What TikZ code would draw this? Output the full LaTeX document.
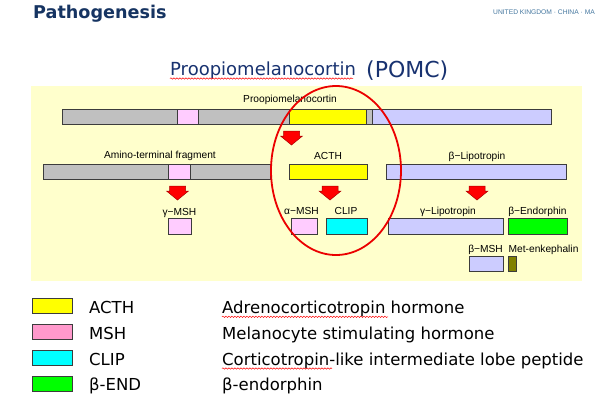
\documentclass[tikz,border=0pt]{standalone}
\usepackage{fontspec}
\setmainfont{DejaVu Sans}
\newfontfamily\labfont{Liberation Sans}
\usetikzlibrary{decorations.pathmorphing}
\definecolor{navy}{RGB}{22,52,98}
\definecolor{titleblue}{RGB}{24,50,112}
\definecolor{corpblue}{RGB}{70,120,160}
\definecolor{panel}{RGB}{255,255,204}
\definecolor{edge}{RGB}{60,60,60}
\definecolor{segGray}{RGB}{192,192,192}
\definecolor{segPink}{RGB}{255,204,255}
\definecolor{segLav}{RGB}{204,204,255}
\definecolor{segYel}{RGB}{255,255,0}
\definecolor{segCyan}{RGB}{0,255,255}
\definecolor{segGreen}{RGB}{0,255,0}
\definecolor{segOlive}{RGB}{128,128,0}
\definecolor{legPink}{RGB}{255,153,204}
\definecolor{arrRed}{RGB}{255,0,0}
\definecolor{arrEdge}{RGB}{170,0,0}
\definecolor{ringRed}{RGB}{235,0,0}
\newcommand\segbox[6]{%
  \node[seg,fill=#6,minimum width={#4pt-#2pt},minimum height={#5pt-#3pt}]
    (#1) at ({(#2+#4)/2},{(#3+#5)/2}) {};}
\newcommand\legbox[3]{%
  \node[legbox,fill=#3] (#1) at (52.5,#2) {};}
\newcommand\blockarrow[3]{%
  \draw[redarr] (#2-8,#3) -- (#2+8,#3) -- (#2+8,#3+5) -- (#2+11,#3+5)
    -- (#2,#3+14) -- (#2-11,#3+5) -- (#2-8,#3+5) -- cycle;
  \coordinate (#1) at (#2,#3+7);}
\begin{document}
\begin{tikzpicture}[x=1pt,y=-1pt,
  seg/.style={draw=edge,line width=0.9pt,inner sep=0pt,outer sep=0pt},
  legbox/.style={draw=edge,line width=1.8pt,inner sep=0pt,outer sep=0pt,
    minimum width=40pt,minimum height=15pt},
  redarr/.style={fill=arrRed,draw=arrEdge,line width=0.5pt,line join=miter},
  lab/.style={inner sep=0pt,anchor=base,font=\labfont\fontsize{10.2}{12}\selectfont},
  legtxt/.style={inner sep=0pt,anchor=base west,font=\fontsize{16.5}{19}\selectfont},
  wavy/.style={draw=red,line width=0.5pt,decorate,
    decoration={snake,segment length=3pt,amplitude=0.7pt}}]
\useasboundingbox (0,0) rectangle (595,408);
\fill[white] (0,0) rectangle (595,408);

% header
\node[inner sep=0pt,anchor=base west,text=navy,
  font=\bfseries\fontsize{17.6}{20}\selectfont] (head) at (33,18.3) {Pathogenesis};
\node[inner sep=0pt,anchor=base east,text=corpblue,
  font=\labfont\fontsize{6.7}{8}\selectfont] (corp) at (595,14) {UNITED KINGDOM · CHINA · MA};

% title
\node[inner sep=0pt,anchor=base west,text=titleblue,
  font=\fontsize{18}{21}\selectfont] (title) at (170,75) {Proopiomelanocortin};
\node[inner sep=0pt,anchor=base west,text=titleblue,
  font=\fontsize{22}{25}\selectfont] (pomc) at (366,77.5) {(POMC)};
\draw[wavy] (170,78.5) -- (353,78.5);

% panel
\fill[panel] (31,86) rectangle (582,281);

% row 1
\segbox{r1a}{62}{109}{177}{124.5}{segGray}
\segbox{r1b}{177}{109}{198}{124.5}{segPink}
\segbox{r1c}{198}{109}{289}{124.5}{segGray}
\segbox{r1d}{289}{109}{366}{124.5}{segYel}
\segbox{r1e}{366}{109}{372}{124.5}{segGray}
\segbox{r1f}{372}{109}{551}{124.5}{segLav}
\node[lab] (lpomc) at (290,102.5) {Proopiomelanocortin};

% row 2
\segbox{r2a}{43}{164}{168}{179}{segGray}
\segbox{r2b}{168}{164}{190}{179}{segPink}
\segbox{r2c}{190}{164}{270}{179}{segGray}
\segbox{acth}{289}{164}{367}{179}{segYel}
\segbox{blip}{386}{164}{566}{179}{segLav}
\node[lab] (lamino) at (160,158.8) {Amino-terminal fragment};
\node[lab] (lacth) at (328,159.5) {ACTH};
\node[lab] (lblip) at (477,159) {β−Lipotropin};

% arrows
\blockarrow{a1}{291.5}{131}
\blockarrow{a2}{177.5}{186}
\blockarrow{a3}{330}{186}
\blockarrow{a4}{477}{186}

% row 3
\segbox{gmsh}{168}{218}{191}{234}{segPink}
\segbox{amsh}{291}{218}{317}{234}{segPink}
\segbox{clip}{326}{218}{367}{234}{segCyan}
\segbox{glip}{388}{218}{503}{234}{segLav}
\segbox{bend}{508}{218}{567}{234}{segGreen}
\node[lab] (lgmsh) at (179.5,215) {γ−MSH};
\node[lab] (lamsh) at (301.5,214.5) {α−MSH};
\node[lab] (lclip) at (346,214.5) {CLIP};
\node[lab] (lglip) at (448,214.5) {γ−Lipotropin};
\node[lab] (lbend) at (537.5,214.5) {β−Endorphin};

% row 4
\segbox{bmsh}{469}{256}{503}{271}{segLav}
\segbox{met}{508}{256}{516}{271}{segOlive}
\node[lab] (lbmsh) at (485.5,252) {β−MSH};
\node[lab,anchor=base west] (lmet) at (508.5,252) {Met-enkephalin};

% ring
\draw[ringRed,line width=1.8pt] (336,170.5) ellipse [x radius=65pt,y radius=84.5pt];

% legend
\legbox{k1}{306}{segYel}
\legbox{k2}{332}{legPink}
\legbox{k3}{358}{segCyan}
\legbox{k4}{384}{segGreen}
\node[legtxt] (t1) at (89,313.3) {ACTH};
\node[legtxt] (t2) at (89,339.5) {MSH};
\node[legtxt] (t3) at (89,365) {CLIP};
\node[legtxt] (t4) at (89,390.5) {β-END};
\node[legtxt] (d1) at (222,313.3) {Adrenocorticotropin hormone};
\node[legtxt] (d2) at (222,339.5) {Melanocyte stimulating hormone};
\node[legtxt] (d3) at (222,365) {Corticotropin-like intermediate lobe peptide};
\node[legtxt] (d4) at (222,390.5) {β-endorphin};
\draw[wavy] (222,316.8) -- (388,316.8);
\draw[wavy] (222,368.5) -- (332,368.5);
\end{tikzpicture}
\end{document}
